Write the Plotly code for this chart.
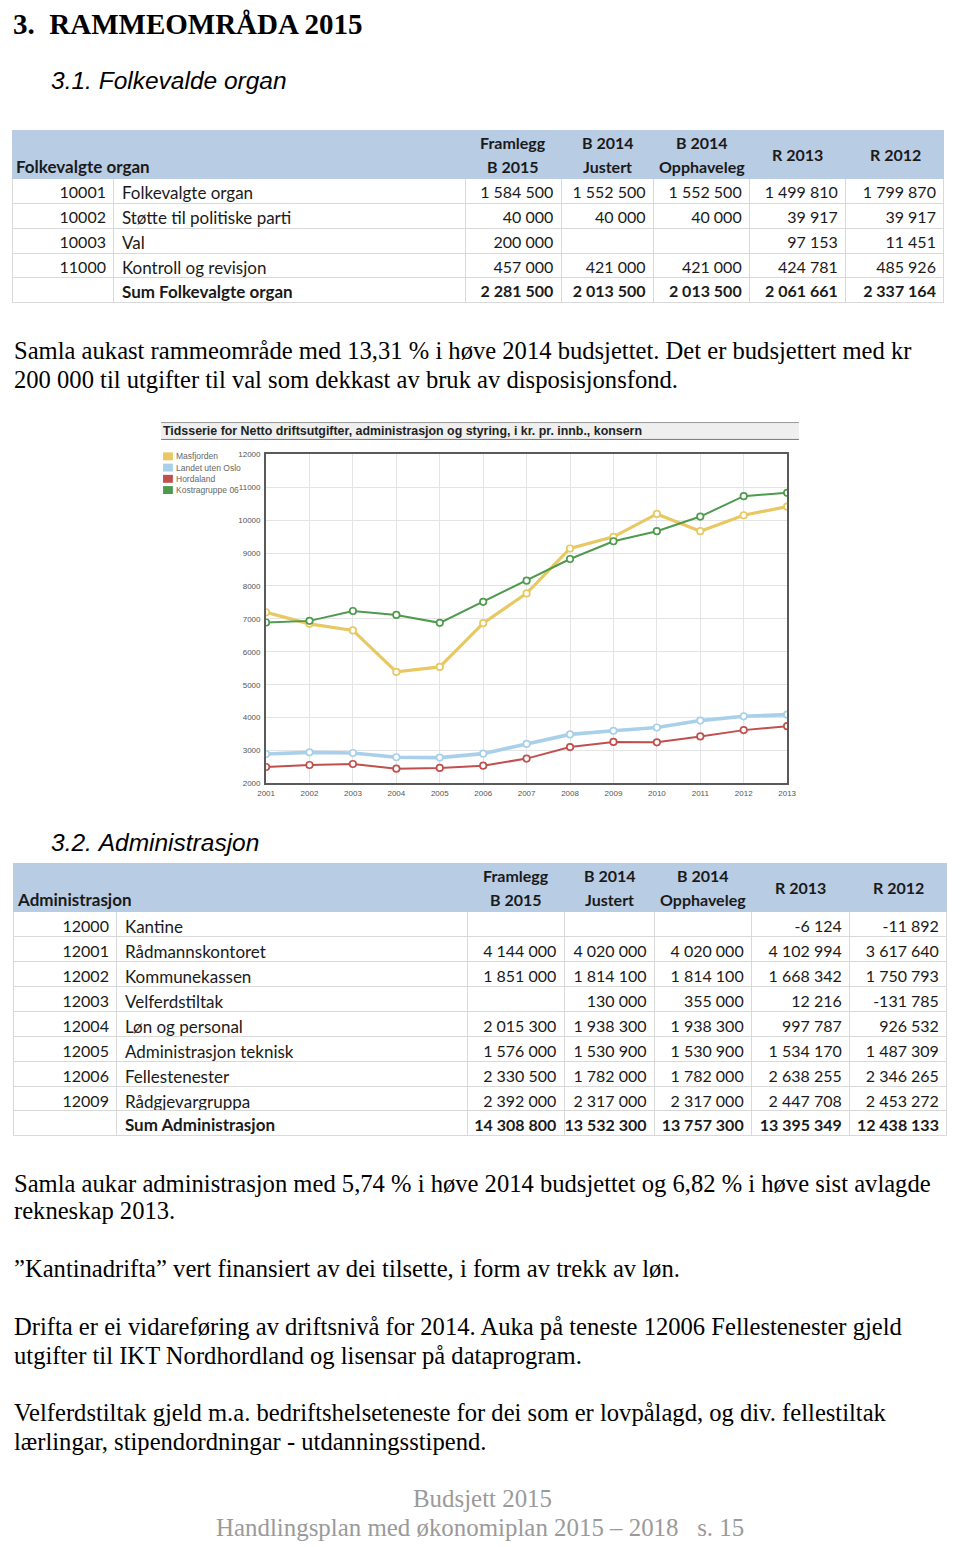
import plotly.graph_objects as go

W, H = 960, 1547

# ---------------- data ----------------
years = [2001, 2002, 2003, 2004, 2005, 2006, 2007, 2008, 2009, 2010, 2011, 2012, 2013]
series_names = ["Masfjorden", "Landet uten Oslo", "Hordaland", "Kostragruppe 06"]
masfjorden = [7200, 6850, 6650, 5390, 5540, 6870, 7775, 9140, 9495, 10190, 9665, 10150, 10410]
landet_uten_oslo = [2895, 2945, 2925, 2795, 2785, 2905, 3200, 3490, 3600, 3700, 3910, 4040, 4090]
hordaland = [2500, 2560, 2590, 2450, 2470, 2540, 2755, 3105, 3260, 3250, 3430, 3620, 3740]
kostragruppe06 = [6890, 6940, 7240, 7120, 6880, 7520, 8160, 8820, 9360, 9665, 10110, 10730, 10830]
y_ticks = [2000, 3000, 4000, 5000, 6000, 7000, 8000, 9000, 10000, 11000, 12000]

table_headers = [["Framlegg", "B 2015"], ["B 2014", "Justert"], ["B 2014", "Opphaveleg"], ["R 2013"], ["R 2012"]]

t1_title = "Folkevalgte organ"
t1_codes = ["10001", "10002", "10003", "11000", ""]
t1_names = ["Folkevalgte organ", "Støtte til politiske parti", "Val", "Kontroll og revisjon", "Sum Folkevalgte organ"]
t1_b2015 = [1584500, 40000, 200000, 457000, 2281500]
t1_b2014j = [1552500, 40000, None, 421000, 2013500]
t1_b2014o = [1552500, 40000, None, 421000, 2013500]
t1_r2013 = [1499810, 39917, 97153, 424781, 2061661]
t1_r2012 = [1799870, 39917, 11451, 485926, 2337164]

t2_title = "Administrasjon"
t2_codes = ["12000", "12001", "12002", "12003", "12004", "12005", "12006", "12009", ""]
t2_names = ["Kantine", "Rådmannskontoret", "Kommunekassen", "Velferdstiltak", "Løn og personal",
            "Administrasjon teknisk", "Fellestenester", "Rådgjevargruppa", "Sum Administrasjon"]
t2_b2015 = [None, 4144000, 1851000, None, 2015300, 1576000, 2330500, 2392000, 14308800]
t2_b2014j = [None, 4020000, 1814100, 130000, 1938300, 1530900, 1782000, 2317000, 13532300]
t2_b2014o = [None, 4020000, 1814100, 355000, 1938300, 1530900, 1782000, 2317000, 13757300]
t2_r2013 = [-6124, 4102994, 1668342, 12216, 997787, 1534170, 2638255, 2447708, 13395349]
t2_r2012 = [-11892, 3617640, 1750793, -131785, 926532, 1487309, 2346265, 2453272, 12438133]

heading = "3.\u00a0\u00a0RAMMEOMRÅDA 2015"
sub1 = "3.1.\u00a0Folkevalde organ"
sub2 = "3.2.\u00a0Administrasjon"
para1 = ["Samla aukast rammeområde med 13,31 % i høve 2014 budsjettet. Det er budsjettert med kr",
         "200 000 til utgifter til val som dekkast av bruk av disposisjonsfond."]
para2 = ["Samla aukar administrasjon med 5,74 % i høve 2014 budsjettet og 6,82 % i høve sist avlagde",
         "rekneskap 2013.",
         "”Kantinadrifta” vert finansiert av dei tilsette, i form av trekk av løn.",
         "Drifta er ei vidareføring av driftsnivå for 2014. Auka på teneste 12006 Fellestenester gjeld",
         "utgifter til IKT Nordhordland og lisensar på dataprogram.",
         "Velferdstiltak gjeld m.a. bedriftshelseteneste for dei som er lovpålagd, og div. fellestiltak",
         "lærlingar, stipendordningar - utdanningsstipend."]
footer = ["Budsjett 2015", "Handlingsplan med økonomiplan 2015 – 2018\u00a0\u00a0\u00a0s. 15"]
chart_title = "Tidsserie for Netto driftsutgifter, administrasjon og styring, i kr. pr. innb., konsern"

# ---------------- style ----------------
colors = ["#e8c862", "#a9d0ea", "#c0504d", "#4e9a4e"]
widths = [3.2, 3.6, 2, 2]
BLUE = "#b8cce4"
GRID = "#d9d9d9"
SANS = "Lato, Calibri, sans-serif"
SERIF = "Liberation Serif, Times New Roman, serif"
ARIAL = "Liberation Sans, Arial, sans-serif"
NBSP = "\u00a0"
ROW_H, HEAD_H = 25, 48
CELL_SIZES = [16, 17, 16, 16, 16, 16, 16]


def px(x):
    return min(1.0, max(0.0, x / W))


def py(y):
    return min(1.0, max(0.0, 1 - y / H))


def fmt(v):
    if v is None:
        return ""
    s = f"{abs(v):,}".replace(",", NBSP)
    return ("-" if v < 0 else "") + s


fig = go.Figure()

# ---------------- line chart ----------------
for name, vals, c, w in zip(series_names, [masfjorden, landet_uten_oslo, hordaland, kostragruppe06], colors, widths):
    fig.add_trace(go.Scatter(
        x=years, y=vals, name=name, mode="lines+markers",
        line=dict(color=c, width=w),
        marker=dict(symbol="circle", size=6.5, color="white", line=dict(color=c, width=1.7)),
        showlegend=False, xaxis="x", yaxis="y"))

axis_common = dict(showgrid=True, gridcolor="#e4e4e4", gridwidth=1, zeroline=False,
                   showline=True, mirror=True, linecolor="#5a5a5a", linewidth=2,
                   tickfont=dict(family=ARIAL, size=8, color="#555"), ticks="", fixedrange=True)
fig.update_layout(
    xaxis=dict(domain=[px(262), px(793)], range=[2001, 2013], tickvals=years, anchor="y",
               ticklabelstandoff=1, **axis_common),
    yaxis=dict(domain=[py(784), py(453)], range=[2000, 12000], tickvals=y_ticks, tickformat="d",
               anchor="x", ticklabelstandoff=2, **axis_common),
)


# ---------------- tables ----------------
def add_table(top, edges, codes, names, cols):
    widths_ = [edges[i + 1] - edges[i] for i in range(len(edges) - 1)]
    n = len(codes)
    values = [codes, [s.replace(" ", NBSP) for s in names]] + [[fmt(v) for v in col] for col in cols]
    align = ["right", "left"] + ["right"] * len(cols)
    x_dom = [px(edges[0]), px(edges[-1])]
    body_bottom = top + HEAD_H + (n - 1) * ROW_H
    # blue header + ordinary rows
    fig.add_trace(go.Table(
        domain=dict(x=x_dom, y=[py(body_bottom + 1), py(top)]),
        columnwidth=widths_,
        header=dict(values=[""] * len(values), fill_color=BLUE, line=dict(color=BLUE, width=1), height=HEAD_H),
        cells=dict(values=[v[:-1] for v in values], fill_color="white", line=dict(color=GRID, width=1),
                   height=ROW_H, align=align, font=dict(family=SANS, size=CELL_SIZES, color="#1a1a1a")),
    ))
    # bold sum row
    fig.add_trace(go.Table(
        domain=dict(x=x_dom, y=[py(body_bottom + ROW_H + 2), py(body_bottom)]),
        columnwidth=widths_,
        header=dict(values=[v[-1] for v in values], fill_color="white", line=dict(color=GRID, width=1),
                    height=ROW_H, align=align,
                    font=dict(family=SANS, size=CELL_SIZES, color="#1a1a1a", weight="bold")),
        cells=dict(values=[[] for _ in values]),
    ))


t1_edges = [4, 107, 465, 563, 657, 755, 853, 953]
t2_edges = [5, 110, 467, 566, 658, 757, 857, 956]
add_table(127, t1_edges, t1_codes, t1_names, [t1_b2015, t1_b2014j, t1_b2014o, t1_r2013, t1_r2012])
add_table(865, t2_edges, t2_codes, t2_names, [t2_b2015, t2_b2014j, t2_b2014o, t2_r2013, t2_r2012])

annotations = []
shapes = []


def text(x, y, s, size, family=SANS, color="#000", xanchor="left", bold=False, italic=False):
    if bold:
        s = f"<b>{s}</b>"
    if italic:
        s = f"<i>{s}</i>"
    annotations.append(dict(x=px(x), y=py(y), xref="paper", yref="paper", text=s, showarrow=False,
                            xanchor=xanchor, yanchor="middle", borderpad=0,
                            font=dict(family=family, size=size, color=color)))


# table headers
for top, edges, title in [(127, t1_edges, t1_title), (865, t2_edges, t2_title)]:
    text(edges[0] + 2, top + 36, title, 17, bold=True, color="#1a1a1a")
    for i, hdr in enumerate(table_headers):
        cx = (edges[2 + i] + edges[3 + i]) / 2
        if len(hdr) == 2:
            text(cx, top + 12, hdr[0], 16, bold=True, color="#1a1a1a", xanchor="center")
            text(cx, top + 36, hdr[1], 16, bold=True, color="#1a1a1a", xanchor="center")
        else:
            text(cx, top + 24, hdr[0], 16, bold=True, color="#1a1a1a", xanchor="center")

# headings
text(3, 20, heading, 29, family=SERIF, bold=True)
text(42, 77, sub1, 24.5, family=ARIAL, italic=True)
text(42, 843, sub2, 24.5, family=ARIAL, italic=True)

# paragraphs
for s, y in zip(para1, [349, 378]):
    text(4, y, s, 24.6, family=SERIF)
for s, y in zip(para2, [1186, 1214, 1272, 1330, 1359, 1417, 1446]):
    text(4, y, s, 24.6, family=SERIF)

# footer
text(483, 1503, footer[0], 24.9, family=SERIF, color="#9a9a9a", xanchor="center")
text(480, 1532, footer[1], 24.9, family=SERIF, color="#9a9a9a", xanchor="center")

# chart title band
shapes.append(dict(type="rect", xref="paper", yref="paper", x0=px(155), x1=px(805), y0=py(438), y1=py(421),
                   fillcolor="#efefef", line=dict(width=0), layer="below"))
for yy, col in ((421, "#9a9a9a"), (438, "#7a7a7a")):
    shapes.append(dict(type="line", xref="paper", yref="paper", x0=px(155), x1=px(805), y0=py(yy), y1=py(yy),
                       line=dict(color=col, width=1)))
text(156, 430, chart_title, 12.4, family=ARIAL, bold=True, color="#222")

# legend
for i, (name, c) in enumerate(zip(series_names, colors)):
    yc = 455 + i * 11.3
    shapes.append(dict(type="rect", xref="paper", yref="paper", x0=px(157), x1=px(167),
                       y0=py(yc + 4), y1=py(yc - 4), fillcolor=c, line=dict(width=0)))
    text(169, yc, name, 8.5, family=ARIAL, color="#666")

fig.update_layout(
    width=W, height=H, margin=dict(l=0, r=0, t=0, b=0),
    paper_bgcolor="white", plot_bgcolor="white",
    annotations=annotations, shapes=shapes, showlegend=False,
)

fig.write_html("out.html", config={"displayModeBar": False},
               post_script="document.body.style.margin='0';document.body.style.overflow='hidden';")
